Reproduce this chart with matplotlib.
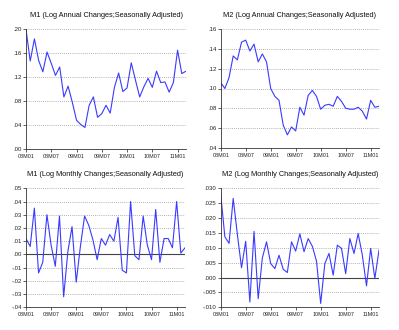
import matplotlib
matplotlib.use("Agg")
import matplotlib.pyplot as plt
import numpy as np

plt.rcParams['font.family'] = ['Liberation Sans', 'DejaVu Sans']

# monthly observations 2008M01 .. 2011M03
tick_labels = ["08M01", "08M07", "09M01", "09M07", "10M01", "10M07", "11M01"]

m1_annual = [0.200, 0.147, 0.184, 0.148, 0.129, 0.162, 0.143, 0.123, 0.137, 0.087,
             0.105, 0.078, 0.048, 0.041, 0.036, 0.073, 0.087, 0.053, 0.059, 0.073,
             0.060, 0.103, 0.127, 0.096, 0.102, 0.144, 0.115, 0.087, 0.104, 0.118,
             0.103, 0.130, 0.111, 0.112, 0.095, 0.111, 0.165, 0.126, 0.130]
m2_annual = [0.106, 0.100, 0.111, 0.133, 0.129, 0.147, 0.149, 0.138, 0.145, 0.127,
             0.135, 0.127, 0.100, 0.092, 0.088, 0.063, 0.053, 0.061, 0.057, 0.081,
             0.073, 0.093, 0.098, 0.092, 0.079, 0.083, 0.084, 0.082, 0.092, 0.087,
             0.080, 0.079, 0.079, 0.081, 0.077, 0.069, 0.088, 0.081, 0.082]
m1_monthly = [0.012, 0.006, 0.035, -0.014, -0.006, 0.030, 0.007, -0.009, 0.029, -0.032,
              0.002, 0.021, -0.021, 0.006, 0.029, 0.022, 0.011, -0.004, 0.012, 0.007,
              0.015, 0.010, 0.028, -0.012, -0.014, 0.040, -0.001, -0.004, 0.029, 0.007,
              -0.004, 0.034, -0.006, 0.012, 0.012, 0.005, 0.040, 0.001, 0.005]
m2_monthly = [0.0280, 0.0137, 0.0115, 0.0266, 0.0145, 0.0033, 0.0122, -0.0082, 0.0155, -0.0071,
              0.0066, 0.0120, 0.0047, 0.0030, 0.0075, 0.0028, 0.0017, 0.0120, 0.0089, 0.0147,
              0.0087, 0.0131, 0.0105, 0.0055, -0.0087, 0.0047, 0.0081, 0.0008, 0.0109, 0.0098,
              0.0013, 0.0131, 0.0081, 0.0148, 0.0075, -0.0028, 0.0098, -0.0003, 0.0092]

W, H = 399, 330
fig = plt.figure(figsize=(W / 100, H / 100), dpi=100)


def fmt(v, nd):
    s = "{:.{}f}".format(v, nd)
    s = s.replace("0.", ".", 1)
    if s in ("-.0", "-.00", "-.000"):
        s = s[1:]
    return s


def panel(px, title, data, ymin, ymax, step, nd, zero_line):
    x0, y0, x1, y1 = px
    ax = fig.add_axes([x0 / W, 1 - y1 / H, (x1 - x0) / W, (y1 - y0) / H])
    x = np.arange(len(data))
    ax.plot(x, data, color="#3a3aff", lw=0.8)
    yt = np.arange(ymin, ymax + step / 2, step)
    ax.set_ylim(ymin, ymax)
    ax.set_yticks(yt)
    ax.set_yticklabels([fmt(v, nd) for v in yt])
    for v in yt[1:]:
        if zero_line and abs(v) < 1e-9:
            continue
        ax.axhline(v, color="#999999", lw=0.6, ls=(0, (1, 1.5)), zorder=0)
    if zero_line:
        ax.axhline(0, color="#444444", lw=0.8, zorder=1)
    ax.set_xlim(0, len(data) - 1)
    ax.set_xticks(np.arange(0, len(data), 6))
    ax.set_xticklabels(tick_labels)
    for s in ("top", "right"):
        ax.spines[s].set_visible(False)
    for s in ("left", "bottom"):
        ax.spines[s].set_color("#333333")
        ax.spines[s].set_linewidth(0.6)
    ax.tick_params(axis="y", labelsize=4.3, length=2, width=0.5, pad=1, colors="#222222")
    ax.tick_params(axis="x", labelsize=3.9, length=2, width=0.5, pad=1.5, colors="#222222")
    fig.text((x0 + x1) / 2 / W, 1 - (y0 - 13.5) / H, title, ha="center", va="center",
             fontsize=5.35, color="#111111")
    return ax


panel((26, 29.3, 186, 149), "M1 (Log Annual Changes;Seasonally Adjusted)",
      m1_annual, 0.0, 0.20, 0.04, 2, False)
panel((220.7, 29.3, 379, 147.7), "M2 (Log Annual Changes;Seasonally Adjusted)",
      m2_annual, 0.04, 0.16, 0.02, 2, False)
panel((26, 188.3, 185, 307.3), "M1 (Log Monthly Changes;Seasonally Adjusted)",
      m1_monthly, -0.04, 0.05, 0.01, 2, True)
panel((220.7, 188.3, 379, 307.3), "M2 (Log Monthly Changes;Seasonally Adjusted)",
      m2_monthly, -0.010, 0.030, 0.005, 3, True)

fig.savefig("out.png", dpi=100)
